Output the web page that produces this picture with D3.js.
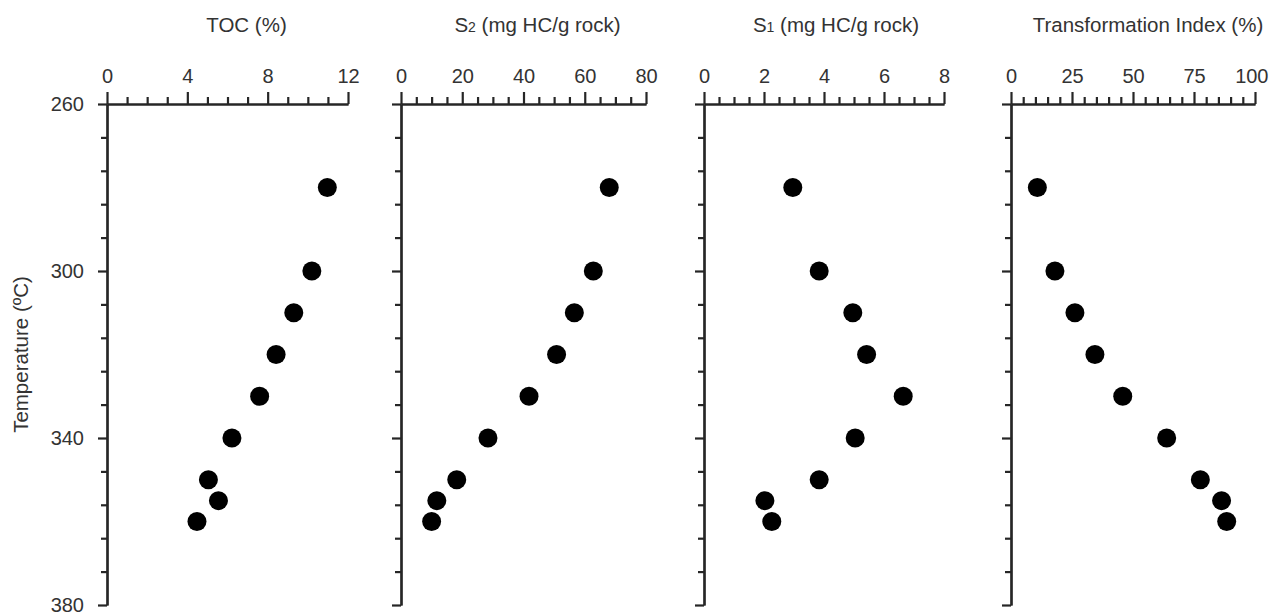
<!DOCTYPE html>
<html lang="en">
<head>
  <meta charset="UTF-8">
  <title>Pyrolysis profiles vs temperature</title>
  <script src="https://d3js.org/d3.v7.min.js"></script>
  <style>
    body { margin: 0; background: #fff; font-family: 'Liberation Sans', Arial, sans-serif; }
    .axis text { font-family: 'Liberation Sans', Arial, sans-serif; font-size: 20px; fill: #333; }
    .axis path, .axis line { stroke: #262626; stroke-width: 2.2; }
    .title { font-size: 20.5px; fill: #333; }
  </style>
</head>
<body>
  <div id="chart"></div>

  <script>
    // temperatures (ºC) shared by every panel
    const temperature = [280, 300, 310, 320, 330, 340, 350, 355, 360];
    const toc = [10.97, 10.2, 9.3, 8.42, 7.6, 6.22, 5.05, 5.55, 4.48];
    const s2 = [68.0, 62.8, 56.6, 50.8, 41.8, 28.4, 18.2, 11.7, 10.0];
    const s1 = [2.96, 3.84, 4.96, 5.42, 6.64, 5.04, 3.84, 2.03, 2.26];
    const transformationIndex = [10.8, 18.0, 26.2, 34.4, 45.8, 63.8, 77.6, 86.3, 88.4];

    const tempTicks = [260, 300, 340, 380];
    const tocTicks = [0, 4, 8, 12];
    const s2Ticks = [0, 20, 40, 60, 80];
    const s1Ticks = [0, 2, 4, 6, 8];
    const tiTicks = [0, 25, 50, 75, 100];

    const width = 1271, height = 615;
    const plotTop = 104, plotBottom = 605;

    const svg = d3.select("#chart")
      .append("svg")
      .attr("width", width)
      .attr("height", height);

    const y = d3.scaleLinear()
      .domain([260, 380])
      .range([plotTop, plotBottom]);

    const panels = [
      { title: [["TOC (%)", false]], values: toc, ticks: tocTicks, minor: 1, left: 107, right: 348, shift: 19 },
      { title: [["S", false], ["2", true], [" (mg HC/g rock)", false]], values: s2, ticks: s2Ticks, minor: 5, left: 401, right: 646, shift: 14 },
      { title: [["S", false], ["1", true], [" (mg HC/g rock)", false]], values: s1, ticks: s1Ticks, minor: 0.5, left: 704, right: 944, shift: 12 },
      { title: [["Transformation Index (%)", false]], values: transformationIndex, ticks: tiTicks, minor: 5, left: 1011, right: 1255, shift: 15 }
    ];

    panels.forEach((p, i) => {
      const xMax = p.ticks[p.ticks.length - 1];
      const x = d3.scaleLinear()
        .domain([0, xMax])
        .range([p.left, p.right]);

      // minor ticks on top
      const minorVals = d3.range(0, xMax + p.minor / 2, p.minor).filter(v => !p.ticks.includes(v));
      svg.append("g")
        .attr("class", "axis")
        .attr("transform", `translate(0,${plotTop})`)
        .call(d3.axisTop(x).tickValues(minorVals).tickSize(7).tickSizeOuter(0).tickFormat(""));

      const xAxis = svg.append("g")
        .attr("class", "axis")
        .attr("transform", `translate(0,${plotTop})`)
        .call(d3.axisTop(x).tickValues(p.ticks).tickSize(12).tickSizeOuter(0).tickPadding(9));

      // keep labels inside the window (the "100" at the far right)
      xAxis.selectAll("text").each(function () {
        const box = this.getBBox();
        const absRight = x(d3.select(this).datum()) + box.x + box.width;
        if (absRight > width - 3) d3.select(this).attr("dx", width - 3 - absRight);
      });

      // vertical axis: minor + major
      const yMinor = d3.range(260, 381, 8).filter(v => !tempTicks.includes(v));
      svg.append("g")
        .attr("class", "axis")
        .attr("transform", `translate(${p.left},0)`)
        .call(d3.axisLeft(y).tickValues(yMinor).tickSize(6).tickSizeOuter(0).tickFormat(""));

      svg.append("g")
        .attr("class", "axis")
        .attr("transform", `translate(${p.left},0)`)
        .call(d3.axisLeft(y).tickValues(tempTicks).tickSize(9).tickSizeOuter(0).tickPadding(14)
          .tickFormat(i === 0 ? d3.format("d") : ""));

      const title = svg.append("text")
        .attr("class", "title")
        .attr("x", (p.left + p.right) / 2 + p.shift)
        .attr("y", 32)
        .attr("text-anchor", "middle");
      p.title.forEach(([t, sub]) => {
        title.append("tspan")
          .style("font-size", sub ? "14px" : null)
          .text(t);
      });

      svg.append("g")
        .selectAll("circle")
        .data(p.values)
        .enter()
        .append("circle")
        .attr("cx", d => x(d))
        .attr("cy", (d, j) => y(temperature[j]))
        .attr("r", 9.5)
        .attr("fill", "#000");
    });

    svg.append("text")
      .attr("class", "title")
      .attr("transform", `translate(28,${(plotTop + plotBottom) / 2}) rotate(-90)`)
      .attr("text-anchor", "middle")
      .text("Temperature (ºC)");
  </script>
</body>
</html>
